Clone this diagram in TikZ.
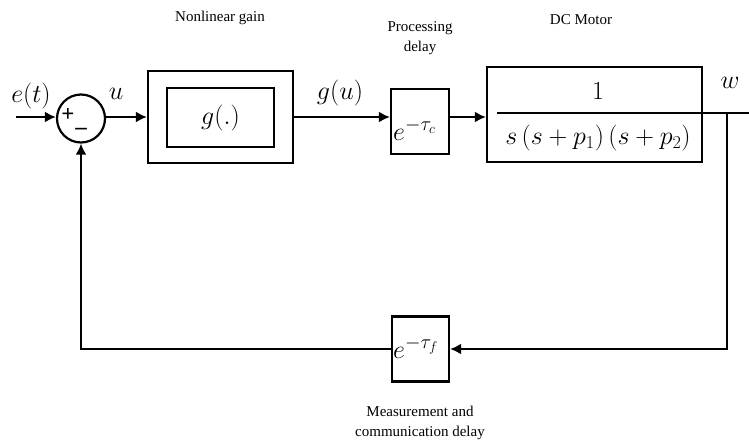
\RequirePackage{fix-cm}
\documentclass[tikz,border=0pt]{standalone}
\usepackage[no-math]{fontspec}
\setmainfont{Liberation Serif}
\usetikzlibrary{arrows.meta}
\tikzset{
  blk/.style={draw, line width=2.2pt, inner sep=0pt},
  wire/.style={line width=2.2pt},
  arr/.style={wire, -{Latex[length=11pt,width=11pt]}},
  mlab/.style={inner sep=0pt, font=\fontsize{26}{30}\selectfont},
  sgn/.style={inner sep=0pt, font=\fontsize{23}{26}\selectfont\bfseries},
  tlab/.style={inner sep=0pt, font=\fontsize{15}{20}\selectfont, align=center},
}
\newcommand{\bigexp}[1]{\mbox{\fontsize{20}{24}\selectfont$#1$}}
\begin{document}
\begin{tikzpicture}[x=1pt,y=-1pt]
\useasboundingbox (0,0) rectangle (749,445);
% summing junction
\node[draw, circle, line width=2.2pt, minimum size=48pt, inner sep=0pt] (sum) at (81,118.5) {};
\node[sgn] (plus) at (68,115) {+};
\node[sgn] (minus) at (81,131) {–};
\coordinate (in) at (16,117);
% blocks
\node[blk, minimum width=145pt, minimum height=92pt] (nl) at (220.5,117) {};
\node[blk, minimum width=107pt, minimum height=59pt, mlab] (g) at (220.5,117.5) {$g(.)$};
\node[blk, minimum width=58pt, minimum height=65pt] (pdel) at (420,121.5) {};
\node[mlab, anchor=base west] (pdeltxt) at (393,140) {$e^{\bigexp{-\tau_c}}$};
\node[blk, minimum width=215pt, minimum height=95pt] (motor) at (594.5,114.5) {};
\node[mlab] (num) at (598,91) {$1$};
\node[mlab] (den) at (598,138) {$s\left(s+p_1\right)\left(s+p_2\right)$};
\coordinate (barl) at (497,113);
\node[blk, minimum width=57pt, minimum height=65pt] (fdel) at (420.5,349) {};
\node[mlab, anchor=base west] (fdeltxt) at (393,358) {$e^{\bigexp{-\tau_f}}$};
% coordinates
\coordinate (br) at (727,113);
\coordinate (out) at (749,113);
% connectors
\draw[arr] (in) -- (in -| sum.west);
\draw[arr] (sum.east |- in) -- (nl.west |- in);
\draw[arr] (nl.east |- in) -- (pdel.west |- in);
\draw[arr] (pdel.east |- in) -- (motor.west |- in);
\draw[wire] (barl) -- (motor.east |- barl);
\draw[wire] (motor.east |- br) -- (out);
\draw[arr] (br) |- (fdel.east);
\draw[arr] (fdel.west) -| (sum.south);
% labels
\node[mlab] (elab) at (31,96) {$e(t)$};
\node[mlab] (ulab) at (116,94) {$u$};
\node[mlab] (gulab) at (340,93) {$g(u)$};
\node[mlab] (wlab) at (730,83) {$w$};
\node[tlab] (t1) at (220,18) {Nonlinear gain};
\node[tlab] (t2) at (420,38) {Processing\\delay};
\node[tlab] (t3) at (581,20) {DC Motor};
\node[tlab] (t4) at (420,423) {Measurement and\\communication delay};
\end{tikzpicture}
\end{document}
